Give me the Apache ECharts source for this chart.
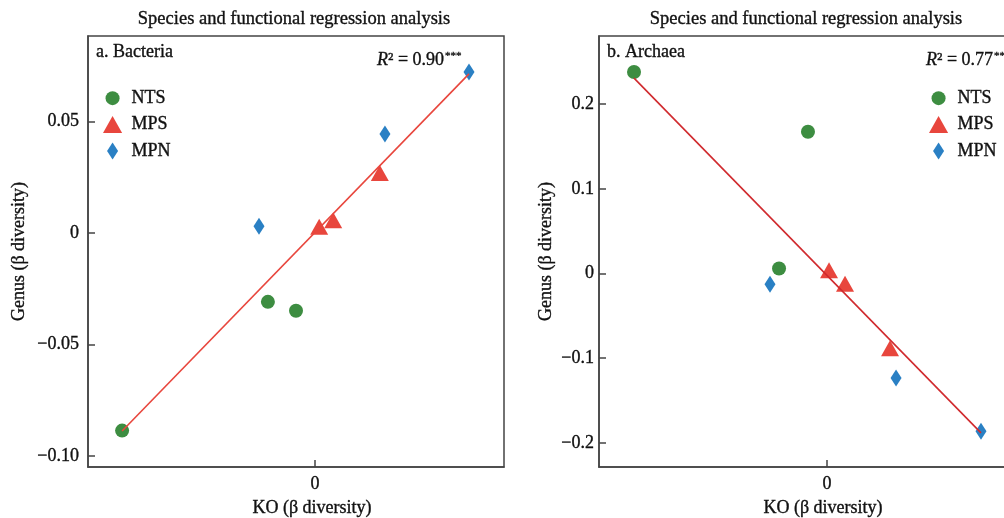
<!DOCTYPE html>
<html>
<head>
<meta charset="utf-8">
<script src="https://cdn.jsdelivr.net/npm/echarts@6/dist/echarts.min.js"></script>
<style>
  html, body { margin: 0; padding: 0; background: #fff; overflow: hidden; }
  /* the right panel runs past the window edge, as in the source figure */
  #chart { width: 1020px; height: 518px; }
</style>
</head>
<body>
<div id="chart"></div>
<script>
// a. Bacteria  [KO, Genus]
const ntsA = [[-0.0865, -0.0886], [-0.0211, -0.0309], [-0.0085, -0.0349]];
const mpsA = [[0.0019, 0.0027], [0.0082, 0.0057], [0.0291, 0.0268]];
const mpnA = [[-0.0251, 0.0030], [0.0314, 0.0443], [0.0691, 0.0721]];
// b. Archaea
const ntsB = [[-0.2281, 0.2379], [-0.0225, 0.1674], [-0.0567, 0.0059]];
const mpsB = [[0.0024, 0.0039], [0.0213, -0.0121], [0.0745, -0.0883]];
const mpnB = [[-0.0674, -0.0126], [0.0816, -0.1234], [0.182, -0.1864]];

const groups = ['NTS', 'MPS', 'MPN'];
const xTicks = [0];
const yTicksA = [-0.1, -0.05, 0, 0.05];
const yTicksB = [-0.2, -0.1, 0, 0.1, 0.2];
const r2A = '0.90';
const r2B = '0.77';
const starsA = '***';
const starsB = '**';

const FONT = '"Liberation Serif", "Times New Roman", serif';
const TXT = '#111';
const BOLDEN = 0.35; // thin outline so the serif text reads a bit heavier
const colors = { NTS: '#3d8d41', MPS: '#e8463d', MPN: '#2a80c4' };
const symbols = {
  NTS: 'circle',
  MPS: 'path://M9,0L18,16L0,16Z',
  MPN: 'path://M5.5,0L11,8.5L5.5,17L0,8.5Z',
};
const symbolSizes = { NTS: 14, MPS: [18, 16], MPN: [11, 17] };
// legend circle: padded box so it stays smaller than the diamond
const legendCircle = 'path://M0,0M17,17M1.5,8.5a7,7 0 1,0 14,0a7,7 0 1,0 -14,0Z';

// least squares fit, drawn between min and max x
function fitLine(points) {
  const n = points.length;
  const mx = points.reduce((s, p) => s + p[0], 0) / n;
  const my = points.reduce((s, p) => s + p[1], 0) / n;
  let sxy = 0, sxx = 0;
  points.forEach(p => { sxy += (p[0] - mx) * (p[1] - my); sxx += (p[0] - mx) * (p[0] - mx); });
  const b = sxy / sxx;
  const a = my - b * mx;
  const xs = points.map(p => p[0]);
  const x0 = Math.min(...xs), x1 = Math.max(...xs);
  return [[x0, a + b * x0], [x1, a + b * x1]];
}

function fmt(dec) {
  return (v) => {
    if (Math.abs(v) < 1e-9) return '0';
    return (v < 0 ? '\u2212' : '') + Math.abs(v).toFixed(dec);
  };
}

const labelStyle = {
  color: TXT, fontFamily: FONT, fontSize: 18,
  textBorderColor: TXT, textBorderWidth: BOLDEN,
};

function makeX(idx, min, max) {
  return {
    type: 'value', gridIndex: idx, min: min, max: max,
    splitLine: { show: false },
    axisLine: { show: true, onZero: false, lineStyle: { color: '#444', width: 1.5 } },
    axisTick: { show: true, inside: true, length: 7, customValues: xTicks, lineStyle: { color: '#444', width: 1.5 } },
    axisLabel: Object.assign({ customValues: xTicks, formatter: fmt(0), margin: 8 }, labelStyle),
  };
}

function makeY(idx, min, max, ticks, dec, margin) {
  return {
    type: 'value', gridIndex: idx, min: min, max: max,
    splitLine: { show: false },
    axisLine: { show: true, onZero: false, lineStyle: { color: '#444', width: 1.5 } },
    axisTick: { show: true, inside: true, length: 7, customValues: ticks, lineStyle: { color: '#444', width: 1.5 } },
    axisLabel: Object.assign({ customValues: ticks, formatter: fmt(dec), margin: margin }, labelStyle),
    name: 'Genus (\u03b2 diversity)',
    nameLocation: 'middle',
    nameGap: idx === 0 ? 60 : 44,
    nameTextStyle: labelStyle,
  };
}

function scatterSeries(idx, dataSets) {
  return groups.map((g, i) => ({
    name: g,
    type: 'scatter',
    xAxisIndex: idx, yAxisIndex: idx,
    symbol: symbols[g],
    symbolSize: symbolSizes[g],
    itemStyle: { color: colors[g], opacity: 1 },
    data: dataSets[i],
    z: 2,
  }));
}

const allA = ntsA.concat(mpsA, mpnA);
const allB = ntsB.concat(mpsB, mpnB);

function legendFor(left) {
  return {
    data: [{ name: 'NTS', icon: legendCircle }, { name: 'MPS' }, { name: 'MPN' }],
    orient: 'vertical', left: left, top: 84,
    itemWidth: 22, itemHeight: 17, itemGap: 8,
    symbolKeepAspect: true,
    selectedMode: false,
    textStyle: Object.assign({ padding: [0, 0, 0, 3] }, labelStyle),
  };
}

function txt(x, y, text, extra) {
  return {
    type: 'text', x: x, y: y,
    style: Object.assign({ text: text, fill: TXT, stroke: TXT, lineWidth: BOLDEN, font: '18px ' + FONT }, extra || {}),
  };
}

function r2Text(x, y, r2, stars) {
  return {
    type: 'text', x: x, y: y,
    style: {
      text: '{i|R}{s|\u00b2}\u2005=\u2005' + r2 + '{st|' + stars + '}',
      fill: TXT, stroke: TXT, lineWidth: BOLDEN, font: '18px ' + FONT, textVerticalAlign: 'middle',
      rich: {
        i: { fontStyle: 'italic', fontFamily: FONT, fontSize: 18, fill: TXT },
        s: { fontFamily: FONT, fontSize: 18, fill: TXT },
        st: { fontFamily: FONT, fontSize: 11, fill: TXT, verticalAlign: 'top', padding: [0, 0, 8, 1] },
      },
    },
  };
}

const chart = echarts.init(document.getElementById('chart'));
chart.setOption({
  animation: false,
  backgroundColor: '#fff',
  grid: [
    { left: 88, top: 36, width: 416, height: 431, show: true, borderColor: '#444', borderWidth: 1.5, containLabel: false },
    { left: 599, top: 36, width: 416, height: 431, show: true, borderColor: '#444', borderWidth: 1.5, containLabel: false },
  ],
  xAxis: [makeX(0, -0.1018, 0.0848), makeX(1, -0.2695, 0.2222)],
  yAxis: [makeY(0, -0.1049, 0.0882, yTicksA, 2, 9), makeY(1, -0.2286, 0.2805, yTicksB, 1, 5)],
  legend: [legendFor(98), legendFor(924)],
  graphic: [
    txt(294, 19, 'Species and functional regression analysis', { textAlign: 'center', textVerticalAlign: 'middle', font: '18.5px ' + FONT }),
    txt(806, 19, 'Species and functional regression analysis', { textAlign: 'center', textVerticalAlign: 'middle', font: '18.5px ' + FONT }),
    txt(96, 52, 'a. Bacteria', { textVerticalAlign: 'middle' }),
    txt(607, 52, 'b. Archaea', { textVerticalAlign: 'middle' }),
    txt(312, 508, 'KO (\u03b2 diversity)', { textAlign: 'center', textVerticalAlign: 'middle' }),
    txt(823, 508, 'KO (\u03b2 diversity)', { textAlign: 'center', textVerticalAlign: 'middle' }),
    r2Text(377, 60, r2A, starsA),
    r2Text(926, 60, r2B, starsB),
  ],
  series: scatterSeries(0, [ntsA, mpsA, mpnA]).concat(scatterSeries(1, [ntsB, mpsB, mpnB]), [
    {
      name: 'fitA', type: 'line', xAxisIndex: 0, yAxisIndex: 0,
      data: fitLine(allA), showSymbol: false, symbol: 'none', z: 3,
      lineStyle: { color: '#e8463d', width: 1.6 },
    },
    {
      name: 'fitB', type: 'line', xAxisIndex: 1, yAxisIndex: 1,
      data: fitLine(allB), showSymbol: false, symbol: 'none', z: 3,
      lineStyle: { color: '#d02a2e', width: 1.6 },
    },
  ]),
});
</script>
</body>
</html>
